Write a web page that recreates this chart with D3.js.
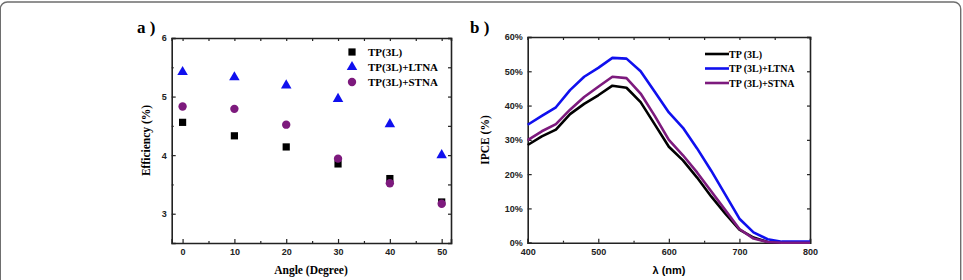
<!DOCTYPE html>
<html>
<head>
<meta charset="utf-8">
<script src="https://cdn.jsdelivr.net/npm/d3@7"></script>
<style>
  body { margin: 0; background: #fff; }
  svg { display: block; }
  .tick text { font-family: Arial, "Liberation Sans", sans-serif; font-weight: bold; font-size: 9px; fill: #222; }
  .serif { font-family: "Times New Roman", "Liberation Serif", serif; font-weight: bold; }
</style>
</head>
<body>
<div id="chart"></div>
<script>
/* Efficiency vs angle, IPCE spectra */

// panel a) data
const angles = [0, 10, 20, 30, 40, 50];
const effTP = [4.56, 4.33, 4.14, 3.85, 3.60, 3.20];
const effLTNA = [5.42, 5.33, 5.19, 4.96, 4.53, 4.00];
const effSTNA = [4.83, 4.79, 4.52, 3.94, 3.52, 3.17];
const effTicks = [3, 4, 5, 6];
const angleTicks = [0, 10, 20, 30, 40, 50];

// panel b) data
const wavelength = [400, 420, 440, 460, 480, 500, 520, 540, 560, 580, 600, 620, 640, 660, 680, 700, 720, 740, 760, 780, 800];
const ipceTP =   [28.5, 31, 33, 37.5, 40.5, 43, 45.8, 45.2, 41, 34.5, 28, 24, 19, 13.5, 8.5, 3.8, 1.5, 0.2, 0, 0, 0];
const ipceLTNA = [34.4, 37, 39.5, 44.5, 48.4, 51, 53.9, 53.7, 50, 44, 38, 33.5, 27.5, 21, 14, 7, 3, 1, 0.3, 0.3, 0.3];
const ipceSTNA = [29.9, 32.5, 34.6, 38.8, 42.5, 45.5, 48.4, 48, 43.5, 37, 30, 25.5, 20.5, 15, 9.5, 4, 1.2, 0.2, 0, 0, 0];
const ipceTicks = [0, 10, 20, 30, 40, 50, 60];
const wlTicks = [400, 500, 600, 700, 800];

const width = 963, height = 280;

const svg = d3.select("#chart").append("svg")
    .attr("width", width)
    .attr("height", height);

// card border
svg.append("rect")
    .attr("x", 0.3).attr("y", 2)
    .attr("width", width - 2.6).attr("height", height + 20)
    .attr("rx", 7)
    .attr("fill", "none")
    .attr("stroke", "#6e6e6e")
    .attr("stroke-width", 1.4);

function frame(g, x, y, xTicks, xMinor, yTicks, yMinor, yFmt) {
    const [x0, x1] = x.range();
    const [y0, y1] = y.range();
    g.append("g")
        .attr("transform", `translate(0,${y0})`)
        .call(d3.axisBottom(x).tickValues(xMinor).tickSize(-2).tickFormat(""))
        .call(a => a.select(".domain").remove());
    g.append("g")
        .attr("transform", `translate(0,${y0})`)
        .call(d3.axisBottom(x).tickValues(xTicks).tickSize(-4).tickPadding(6));
    g.append("g")
        .attr("transform", `translate(${x0},0)`)
        .call(d3.axisLeft(y).tickValues(yMinor).tickSize(-2).tickFormat(""))
        .call(a => a.select(".domain").remove());
    g.append("g")
        .attr("transform", `translate(${x0},0)`)
        .call(d3.axisLeft(y).tickValues(yTicks).tickSize(-4).tickPadding(5).tickFormat(yFmt));
    g.append("g")
        .attr("transform", `translate(0,${y1})`)
        .call(d3.axisTop(x).tickValues(xTicks.concat(xMinor)).tickSize(-3).tickFormat(""));
    g.append("g")
        .attr("transform", `translate(${x1},0)`)
        .call(d3.axisRight(y).tickValues(yTicks.concat(yMinor)).tickSize(-3).tickFormat(""));
    g.selectAll(".domain").attr("stroke", "#222").attr("stroke-width", 1.6);
    g.selectAll(".tick line").attr("stroke", "#222").attr("stroke-width", 1.2);
}

// ---------- panel a ----------
const xa = d3.scaleLinear().domain([-2.1, 51.8]).range([171.7, 451]);
const ya = d3.scaleLinear().domain([2.5, 6]).range([243, 38]);
const ga = svg.append("g");
frame(ga, xa, ya, angleTicks, [5, 15, 25, 35, 45], effTicks, [3.5, 4.5, 5.5], d3.format("d"));

const seriesA = [
    { name: "TP(3L)", values: effTP, color: "#000000", shape: d3.symbolSquare, size: 52 },
    { name: "TP(3L)+LTNA", values: effLTNA, color: "#1010ee", shape: d3.symbolTriangle, size: 48 },
    { name: "TP(3L)+STNA", values: effSTNA, color: "#7d1a7d", shape: d3.symbolCircle, size: 55 }
];

seriesA.forEach(s => {
    ga.selectAll(null)
        .data(angles.map((a, i) => [a, s.values[i]]))
        .join("path")
        .attr("d", d3.symbol().type(s.shape).size(s.size))
        .attr("transform", d => `translate(${xa(d[0])},${ya(d[1])})`)
        .attr("fill", s.color);
});

const legA = ga.selectAll(".legA")
    .data(seriesA)
    .join("g")
    .attr("transform", (d, i) => `translate(352,${52 + i * 15})`);
legA.append("path")
    .attr("d", d => d3.symbol().type(d.shape).size(d.size)())
    .attr("fill", d => d.color);
legA.append("text")
    .attr("class", "serif")
    .attr("x", 16).attr("y", 4)
    .attr("font-size", 11)
    .text(d => d.name);

ga.append("text").attr("class", "serif")
    .attr("x", 137).attr("y", 33).attr("font-size", 17).text("a )");
ga.append("text").attr("class", "serif")
    .attr("transform", "translate(150,140.5) rotate(-90)")
    .attr("text-anchor", "middle").attr("font-size", 11.5)
    .text("Efficiency (%)");
ga.append("text").attr("class", "serif")
    .attr("x", 311).attr("y", 274)
    .attr("text-anchor", "middle").attr("font-size", 11.5)
    .text("Angle (Degree)");

// ---------- panel b ----------
const xb = d3.scaleLinear().domain([400, 800]).range([527.7, 810]);
const yb = d3.scaleLinear().domain([0, 60]).range([242.7, 37]);
const gb = svg.append("g");
frame(gb, xb, yb, wlTicks, [450, 550, 650, 750], ipceTicks, [], d => d + "%");

const seriesB = [
    { name: "TP (3L)", values: ipceTP, color: "#000000" },
    { name: "TP (3L)+LTNA", values: ipceLTNA, color: "#1010ee" },
    { name: "TP (3L)+STNA", values: ipceSTNA, color: "#7d1a7d" }
];

const line = d3.line()
    .x(d => xb(d[0]))
    .y(d => yb(d[1]));

gb.selectAll(".ipce")
    .data(seriesB)
    .join("path")
    .attr("class", "ipce")
    .attr("d", s => line(wavelength.map((w, i) => [w, s.values[i]])))
    .attr("fill", "none")
    .attr("stroke", s => s.color)
    .attr("stroke-width", 2.6)
    .attr("stroke-linejoin", "round");

const legB = gb.selectAll(".legB")
    .data(seriesB)
    .join("g")
    .attr("transform", (d, i) => `translate(705,${54 + i * 14.5})`);
legB.append("line")
    .attr("x1", 0).attr("x2", 24)
    .attr("stroke", d => d.color)
    .attr("stroke-width", 2.6);
legB.append("text")
    .attr("class", "serif")
    .attr("x", 24).attr("y", 3.5)
    .attr("font-size", 10)
    .text(d => d.name);

gb.append("text").attr("class", "serif")
    .attr("x", 470).attr("y", 33).attr("font-size", 17).text("b )");
gb.append("text").attr("class", "serif")
    .attr("transform", "translate(489,140) rotate(-90)")
    .attr("text-anchor", "middle").attr("font-size", 11.5)
    .text("IPCE (%)");
gb.append("text")
    .attr("x", 669).attr("y", 274)
    .attr("text-anchor", "middle")
    .attr("font-family", "Arial, 'Liberation Sans', sans-serif")
    .attr("font-weight", "bold").attr("font-size", 11)
    .text("λ (nm)");
</script>
</body>
</html>
